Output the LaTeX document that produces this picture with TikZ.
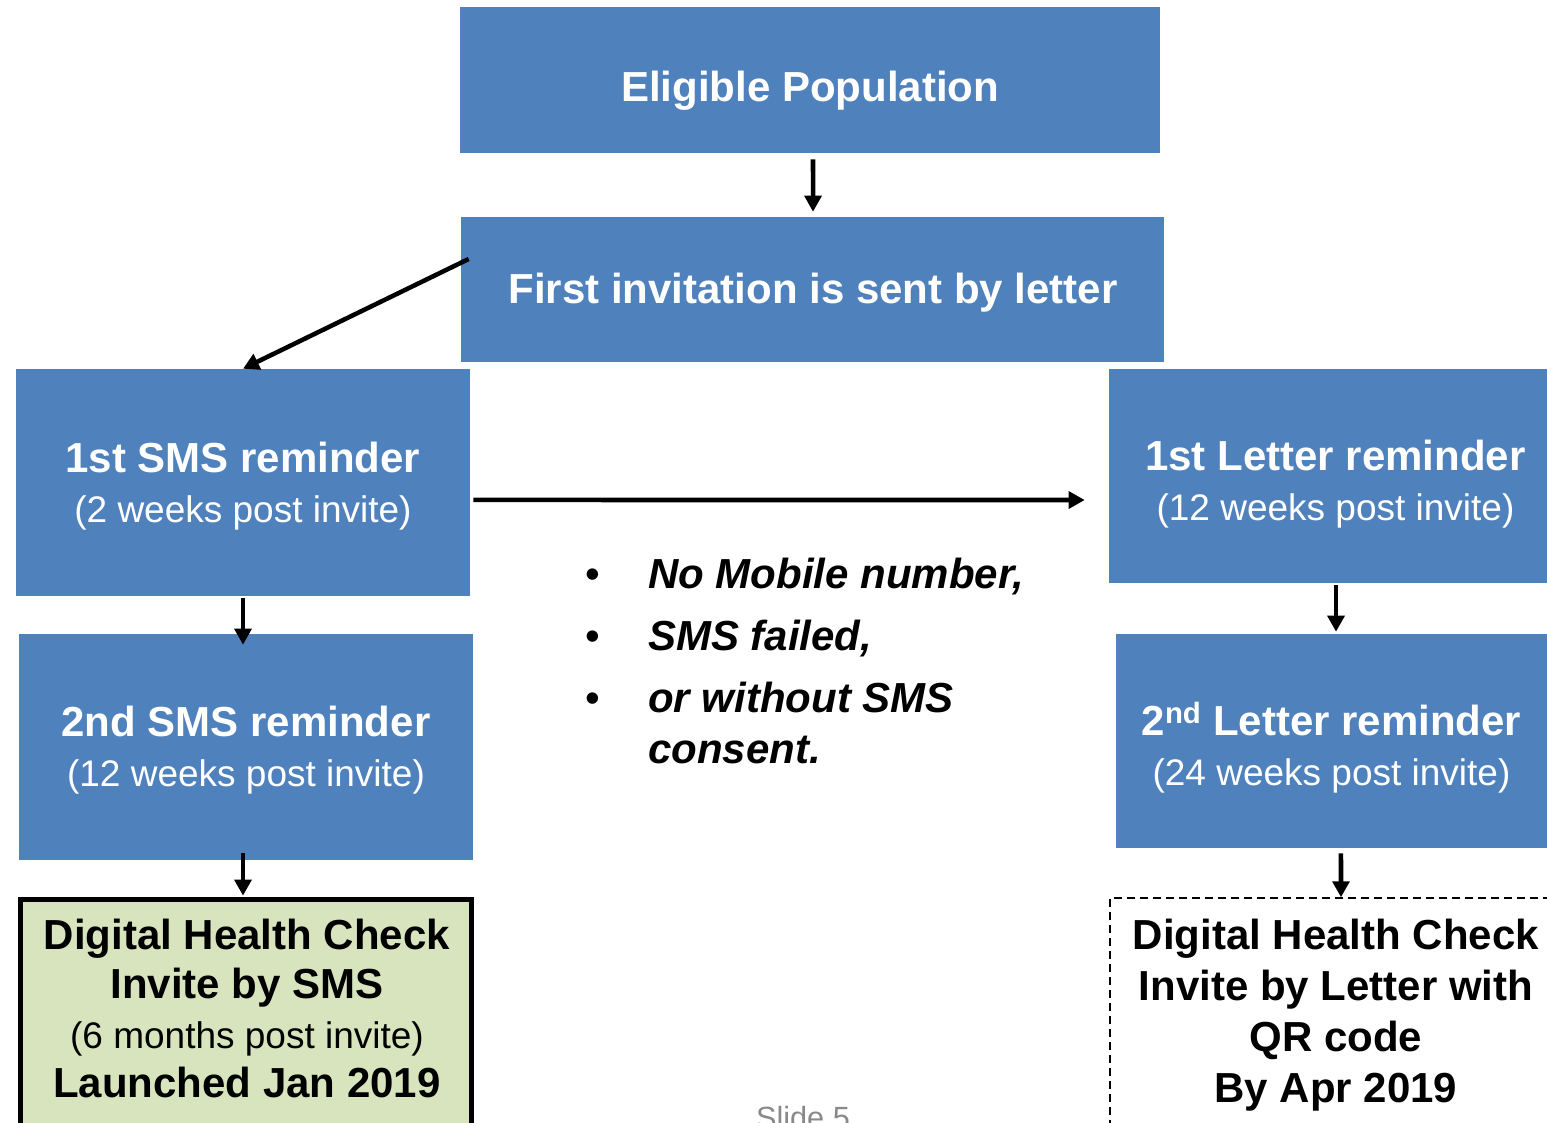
\documentclass[tikz,border=0pt]{standalone}
\usepackage{fontspec}
\setmainfont{Liberation Sans}
\usetikzlibrary{arrows.meta}
\definecolor{boxblue}{HTML}{4F81BD}
\definecolor{dhcgreen}{HTML}{D7E4BD}
\definecolor{slidegray}{HTML}{898989}
\newcommand\subtxt{\fontsize{27.75}{37.5}\selectfont\mdseries}
\begin{document}
\begin{tikzpicture}[x=0.75pt,y=-0.75pt,
  bluebox/.style={fill=boxblue, draw=none, inner sep=0pt},
  bluetext/.style={text=white, align=center, inner sep=0pt,
    font=\fontsize{31.5}{37.5}\selectfont\bfseries},
  arr/.style={line width=3.4pt, -{Triangle[length=12pt,width=12.5pt]}},
  dhctext/.style={align=center, inner sep=0pt, font=\fontsize{31.5}{37}\selectfont\bfseries}]
\useasboundingbox (0,0) rectangle (1547,1122);
\clip (0,0) rectangle (1547,1122);
\fill[white] (0,0) rectangle (1547,1122);

% blue boxes
\node[bluebox, minimum width=525pt, minimum height=109.5pt] (elig) at (810,80) {};
\node[bluebox, minimum width=527.25pt, minimum height=108.75pt] (first) at (812.5,289.5) {};
\node[bluebox, minimum width=340.5pt, minimum height=170.25pt] (sms1) at (243,482.5) {};
\node[bluebox, minimum width=340.5pt, minimum height=169.5pt] (sms2) at (246,747) {};
\node[bluebox, minimum width=339.75pt, minimum height=160.5pt] (let1) at (1335.5,476) {};
\node[bluebox, minimum width=323.25pt, minimum height=160.5pt] (let2) at (1331.5,741) {};

% texts in blue boxes
\node[bluetext] (eligtxt) at (810,91) {Eligible Population};
\node[bluetext] (firsttxt) at (813,292.5) {First invitation is sent by letter};
\node[bluetext] (sms1txt) at (243,486.5) {1st SMS reminder\\{\subtxt (2 weeks post invite)}};
\node[bluetext] (sms2txt) at (246,750) {2nd SMS reminder\\{\subtxt (12 weeks post invite)}};
\node[bluetext] (let1txt) at (1335.5,484) {1st Letter reminder\\{\subtxt (12 weeks post invite)}};
\node[bluetext] (let2txt) at (1331.5,748) {2\textsuperscript{nd} Letter reminder\\{\subtxt (24 weeks post invite)}};

% digital health check boxes
\node[draw=black, line width=3.75pt, fill=dhcgreen, minimum width=338.25pt, minimum height=195.4pt, inner sep=0pt] (dsms) at (246,1029.75) {};
\node[dhctext] (dsmstxt) at (247,1008.5) {Digital Health Check\\Invite by SMS\\{\fontsize{27.75}{37}\selectfont\mdseries (6 months post invite)}\\Launched Jan 2019};
\node[draw=black, line width=1.1pt, dash pattern=on 6pt off 3.75pt, minimum width=345pt, minimum height=196.5pt, inner sep=0pt] (dlet) at (1340,1029) {};
\node[dhctext, font=\fontsize{31.5}{38.4}\selectfont\bfseries] (dlettxt) at (1336,1015) {Digital Health Check\\Invite by Letter with\\QR code\\By Apr 2019};

% bullet list
\node[anchor=base west, align=left, inner sep=0pt, font=\fontsize{31.5}{38.25}\selectfont\bfseries\itshape] (bullets) at (585,763)
 {\makebox[47.25pt][l]{\mdseries\upshape •}No Mobile number,\\[8.25pt]
  \makebox[47.25pt][l]{\mdseries\upshape •}SMS failed,\\[8.25pt]
  \makebox[47.25pt][l]{\mdseries\upshape •}or without SMS\\
  \hspace*{47.25pt}consent.};

% slide label
\node[anchor=base, inner sep=0pt, text=slidegray, font=\fontsize{23}{27}\selectfont] (slide) at (803,1128) {Slide 5};

% connectors
\draw[arr, shorten <=4.5pt, shorten >=3.75pt] ([xshift=2.25pt]elig.south) -- ([xshift=0.4pt]first.north);
\draw[arr] ([xshift=6pt,yshift=22.9pt]first.west) -- (sms1.north);
\draw[arr, shorten <=2.25pt, shorten >=18pt] ([yshift=-13.1pt]sms1.east) -- ([yshift=-18pt]let1.west);
\draw[arr] ([yshift=-1.5pt]sms1.south) -- ([xshift=-2.25pt,yshift=-8.25pt]sms2.north);
\draw[arr] ([xshift=-2.25pt,yshift=5.25pt]sms2.south) -- ([xshift=-2.25pt,yshift=1pt]dsms.north);
\draw[arr] ([xshift=0.4pt,yshift=-1.5pt]let1.south) -- ([xshift=3.4pt,yshift=1.5pt]let2.north);
\draw[arr] ([xshift=7.1pt,yshift=-3.75pt]let2.south) -- ([xshift=0.75pt]dlet.north);
\end{tikzpicture}
\end{document}
